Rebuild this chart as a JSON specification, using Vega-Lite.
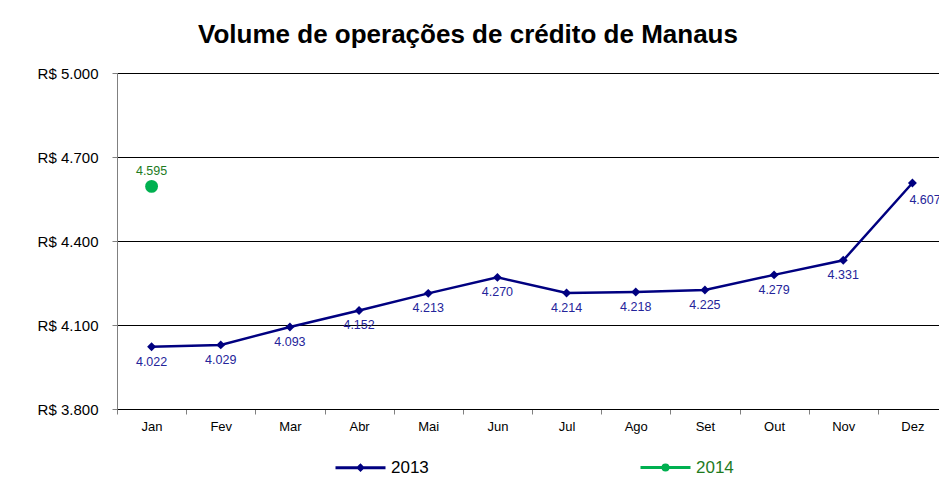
{
  "$schema": "https://vega.github.io/schema/vega-lite/v6.json",
  "width": 822,
  "height": 336,
  "autosize": {"type": "none"},
  "padding": {"left": 117, "top": 73, "right": 0, "bottom": 71},
  "background": "white",
  "config": {
    "font": "Liberation Sans",
    "view": {"stroke": null},
    "locale": {"number": {"decimal": ",", "thousands": ".", "grouping": [3], "currency": ["R$ ", ""]}}
  },
  "title": {
    "text": "Volume de operações de crédito de Manaus",
    "fontSize": 26,
    "fontWeight": "bold",
    "color": "black",
    "anchor": "middle",
    "dx": -60,
    "dy": 3,
    "baseline": "alphabetic",
    "offset": 0
  },
  "data": {
    "values": [
      {"Mes": "Jan", "Ano": "2013", "Volume": 4022},
      {"Mes": "Fev", "Ano": "2013", "Volume": 4029},
      {"Mes": "Mar", "Ano": "2013", "Volume": 4093},
      {"Mes": "Abr", "Ano": "2013", "Volume": 4152},
      {"Mes": "Mai", "Ano": "2013", "Volume": 4213},
      {"Mes": "Jun", "Ano": "2013", "Volume": 4270},
      {"Mes": "Jul", "Ano": "2013", "Volume": 4214},
      {"Mes": "Ago", "Ano": "2013", "Volume": 4218},
      {"Mes": "Set", "Ano": "2013", "Volume": 4225},
      {"Mes": "Out", "Ano": "2013", "Volume": 4279},
      {"Mes": "Nov", "Ano": "2013", "Volume": 4331},
      {"Mes": "Dez", "Ano": "2013", "Volume": 4607},
      {"Mes": "Jan", "Ano": "2014", "Volume": 4595}
    ]
  },
  "encoding": {
    "x": {
      "field": "Mes",
      "type": "nominal",
      "sort": ["Jan", "Fev", "Mar", "Abr", "Mai", "Jun", "Jul", "Ago", "Set", "Out", "Nov", "Dez"],
      "scale": {"type": "band", "paddingInner": 0, "paddingOuter": 0, "range": [0, 830]},
      "axis": {
        "title": null,
        "labelFontSize": 13,
        "labelColor": "black",
        "labelAngle": 0,
        "tickBand": "extent",
        "tickSize": 5,
        "tickColor": "#808080",
        "domainColor": "#000000",
        "labelPadding": 6,
        "grid": false
      }
    },
    "y": {
      "field": "Volume",
      "type": "quantitative",
      "scale": {"domain": [3800, 5000], "nice": false, "zero": false},
      "axis": {
        "title": null,
        "values": [3800, 4100, 4400, 4700, 5000],
        "format": "$,.0f",
        "labelFontSize": 15,
        "labelColor": "black",
        "tickSize": 5,
        "tickColor": "#808080",
        "domainColor": "#808080",
        "gridColor": "#000000",
        "gridOpacity": 1,
        "gridWidth": 1,
        "labelPadding": 14
      }
    }
  },
  "layer": [
    {
      "mark": {"type": "line", "strokeWidth": 2.5},
      "encoding": {
        "color": {
          "field": "Ano",
          "type": "nominal",
          "scale": {"domain": ["2013", "2014"], "range": ["#000080", "#00B050"]},
          "legend": {
            "title": null,
            "orient": "none",
            "legendX": 217,
            "legendY": 368,
            "direction": "horizontal",
            "symbolSize": 2500,
            "symbolStrokeWidth": 3,
            "labelFontSize": 17,
            "labelOffset": 4,
            "columnPadding": 205,
            "encode": {
              "symbols": {
                "update": {
                  "shape": {"signal": "datum.value == '2013' ? 'M-1,0H1M-0.09,0L0,-0.09L0.09,0L0,0.09Z' : 'M-1,0H1M-0.1,0A0.1,0.1 0 1,0 0.1,0A0.1,0.1 0 1,0 -0.1,0Z'"},
                  "fill": {"signal": "datum.value == '2013' ? '#000080' : '#00B050'"},
                  "stroke": {"signal": "datum.value == '2013' ? '#000080' : '#00B050'"},
                  "opacity": {"value": 1},
                  "fillOpacity": {"value": 1},
                  "strokeOpacity": {"value": 1}
                }
              },
              "labels": {
                "update": {
                  "fill": {"signal": "datum.value == '2013' ? '#000000' : '#1E7B1E'"}
                }
              }
            }
          }
        }
      }
    },
    {
      "transform": [{"filter": "datum.Ano == '2013'"}],
      "mark": {"type": "point", "shape": "diamond", "filled": true, "size": 80, "color": "#000080", "opacity": 1}
    },
    {
      "transform": [{"filter": "datum.Ano == '2014'"}],
      "mark": {"type": "circle", "size": 165, "color": "#00B050", "opacity": 1}
    },
    {
      "transform": [{"filter": "datum.Ano == '2013' && datum.Mes != 'Dez'"}],
      "mark": {"type": "text", "dy": 15, "fontSize": 12.5, "color": "#24249A", "baseline": "middle"},
      "encoding": {"text": {"field": "Volume", "type": "quantitative", "format": ",.0f"}}
    },
    {
      "transform": [{"filter": "datum.Ano == '2013' && datum.Mes == 'Dez'"}],
      "mark": {"type": "text", "dy": 17, "dx": -3, "align": "left", "fontSize": 12.5, "color": "#24249A", "baseline": "middle"},
      "encoding": {"text": {"field": "Volume", "type": "quantitative", "format": ",.0f"}}
    },
    {
      "transform": [{"filter": "datum.Ano == '2014'"}],
      "mark": {"type": "text", "dy": -15, "fontSize": 12.5, "color": "#1E7B1E", "baseline": "middle"},
      "encoding": {"text": {"field": "Volume", "type": "quantitative", "format": ",.0f"}}
    }
  ]
}
